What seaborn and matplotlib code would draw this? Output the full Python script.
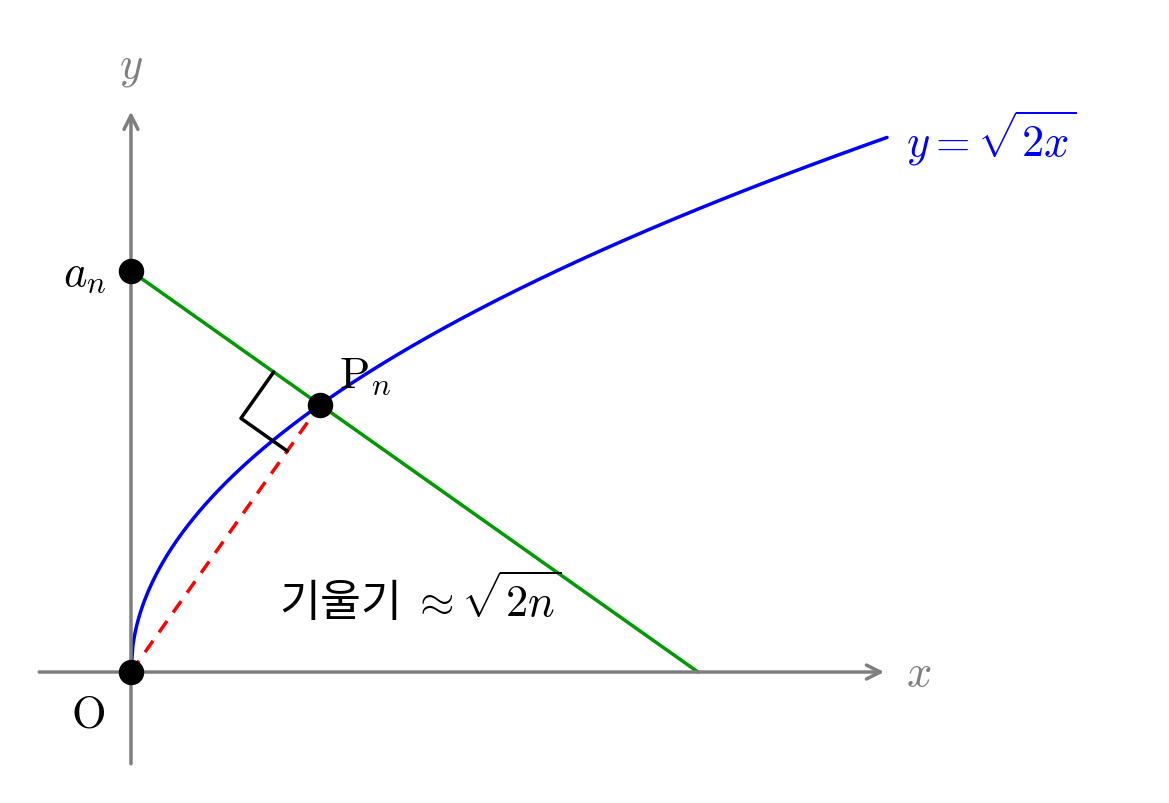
import numpy as np
import matplotlib
matplotlib.use("Agg")
import matplotlib.pyplot as plt
import seaborn as sns

sns.set_theme(style="white")
plt.rcParams['font.family'] = ['Noto Sans CJK KR', 'DejaVu Sans']
plt.rcParams['mathtext.fontset'] = 'cm'
plt.rcParams['text.color'] = 'black'

n = 1.0
x_max = 4.0
curve_x = np.linspace(0, x_max, 400)
curve_y = np.sqrt(2 * curve_x)
P = np.array([n, np.sqrt(2 * n)])
a_n = P[1] + n / P[1]          # y-intercept of line perpendicular to OP
x_int = n + P[1] ** 2          # x-intercept

fig = plt.figure(figsize=(11.69, 8.04), dpi=100)
ax = fig.add_axes([0, 0, 1, 1])
ax.set_xlim(-0.693, 5.492)
ax.set_ylim(-0.693, 3.561)
ax.axis('off')

gray = '#7f7f7f'
fs = 32
ax.annotate('', xy=(4.0, 0), xytext=(-0.5, 0),
            arrowprops=dict(arrowstyle='->', color=gray, lw=2.5, mutation_scale=25))
ax.annotate('', xy=(0, 2.98), xytext=(0, -0.5),
            arrowprops=dict(arrowstyle='->', color=gray, lw=2.5, mutation_scale=25))
ax.text(4.1, 0, '$x$', color=gray, fontsize=fs, va='center')
ax.text(0, 3.09, '$y$', color=gray, fontsize=fs, ha='center', va='bottom')

sns.lineplot(x=curve_x, y=curve_y, ax=ax, color='blue', lw=2.5)
ax.text(4.1, 2.83, r'$y=\sqrt{2x}$', color='blue', fontsize=fs, va='center')

ax.plot([0, x_int], [a_n, 0], color='#009900', lw=2.5)
ax.plot([0, P[0]], [0, P[1]], color='red', lw=2.5, ls=(0, (4, 3)))

u1 = -P / np.linalg.norm(P)
u2 = np.array([-P[1], P[0]]) / np.linalg.norm(P)
s = 0.3
c1 = P + s * u1
c2 = P + s * u1 + s * u2
c3 = P + s * u2
ax.plot([c1[0], c2[0], c3[0]], [c1[1], c2[1], c3[1]], color='black', lw=2.5)

ax.scatter([0, 0, P[0]], [0, a_n, P[1]], s=300, color='black', zorder=5)
ax.text(-0.13, a_n, '$a_n$', fontsize=fs, ha='right', va='center', color='black')
ax.text(1.1, 1.58, r'$\mathrm{P}_n$', fontsize=fs, ha='left', va='center', color='black')
ax.text(-0.23, -0.22, r'$\mathrm{O}$', fontsize=fs, ha='center', va='center', color='black')
ax.text(1.53, 0.39, r'기울기 $\approx \sqrt{2n}$', fontsize=fs, ha='center', va='center', color='black')

fig.savefig('out.png', dpi=100)
